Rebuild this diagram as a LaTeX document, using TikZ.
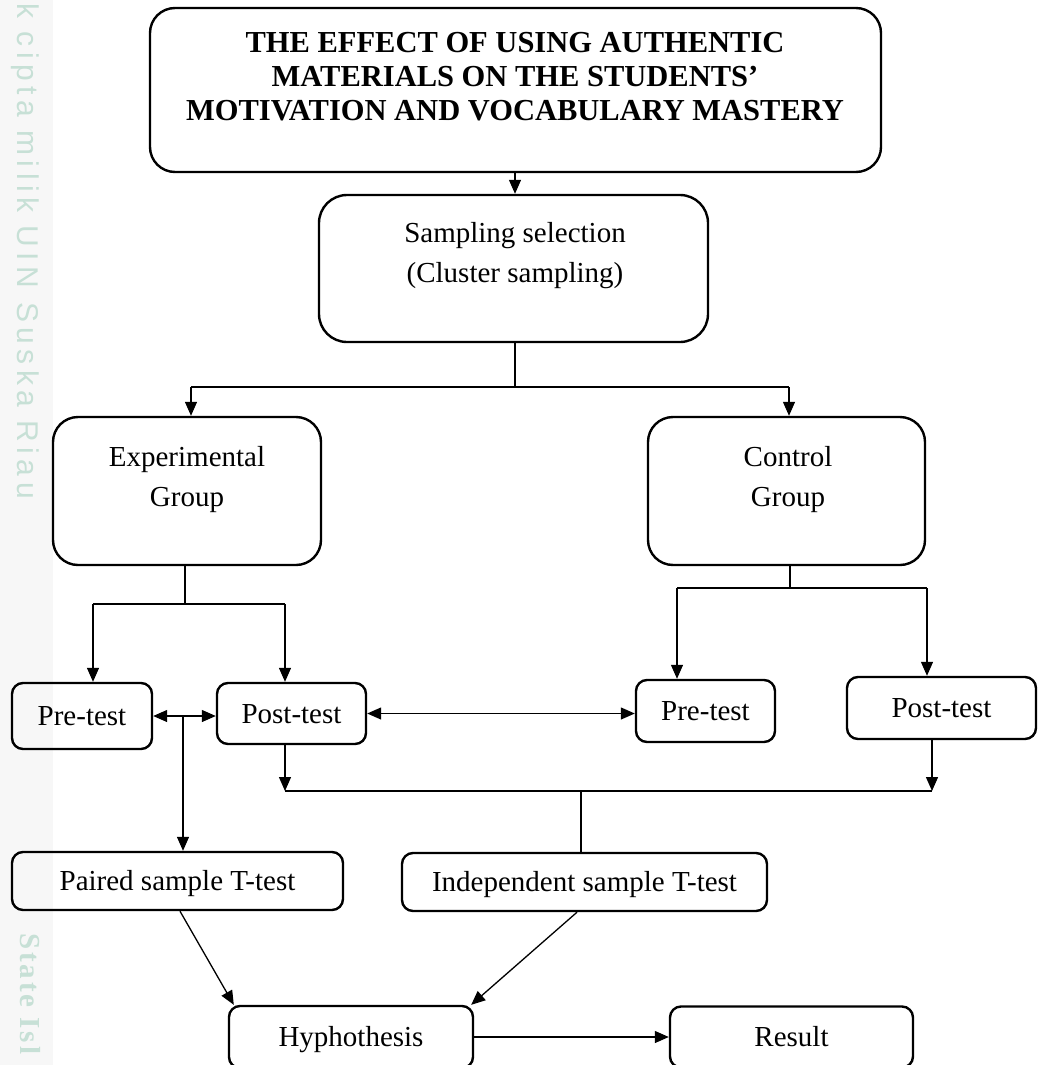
\documentclass[tikz,border=0pt]{standalone}
\usepackage{fontspec}
\setmainfont{Liberation Serif}
\newfontfamily\wmsans[LetterSpace=18]{Liberation Sans}
\newfontfamily\wmserif[LetterSpace=10]{Liberation Serif}
\usetikzlibrary{arrows.meta,calc}
\definecolor{wm}{rgb}{0.78,0.88,0.84}
\begin{document}
\begin{tikzpicture}[x=1pt,y=-1pt,
  box/.style={draw=black, line width=2.4pt, rounded corners=#1, inner sep=0pt, text height=19pt, text depth=0pt, font=\fontsize{29}{40}\selectfont},
  box/.default=11pt,
  txt/.style={align=center, inner sep=0pt, font=\fontsize{29}{40}\selectfont},
  ln/.style={line width=1.3pt},
  arr/.style={ln, -{Triangle[length=14pt,width=12pt]}},
  darr/.style={ln, {Triangle[length=14pt,width=12pt]}-{Triangle[length=14pt,width=12pt]}},
  wmtext/.style={rotate=-90, anchor=west, text=wm, inner sep=0pt}
]
\useasboundingbox (0,0) rectangle (1038,1065);
\clip (0,0) rectangle (1038,1065);
\fill[black!3] (0,0) rectangle (53,1065);
\node[wmtext, font=\wmsans\fontsize{30}{30}\selectfont] (wm1) at (25,3) {k cipta milik UIN Suska Riau};
\node[wmtext, font=\wmserif\bfseries\fontsize{29}{29}\selectfont] (wm2) at (30,933) {State Isl};

% boxes
\node[box=25pt, minimum width=731pt, minimum height=164pt] (title) at (515.5,90) {};
\node[txt, font=\bfseries\fontsize{30.5}{34}\selectfont] (titletext) at (515,77) {THE EFFECT OF USING AUTHENTIC\\MATERIALS ON THE STUDENTS’\\MOTIVATION AND VOCABULARY MASTERY};

\node[box=28pt, minimum width=389pt, minimum height=147pt] (samp) at (513.5,268.5) {};
\node[txt] (samptext) at (515,256) {Sampling selection\\(Cluster sampling)};

\node[box=25pt, minimum width=268pt, minimum height=148pt] (exp) at (187,491) {};
\node[txt] (exptext) at (187,480) {Experimental\\Group};

\node[box=25pt, minimum width=277pt, minimum height=148pt] (ctl) at (786.5,491) {};
\node[txt] (ctltext) at (788,480) {Control\\Group};

\node[box, minimum width=140pt, minimum height=66pt] (preL) at (82,716) {Pre-test};
\node[box, minimum width=149pt, minimum height=61pt] (postL) at (291.5,713.5) {Post-test};
\node[box, minimum width=139pt, minimum height=62pt] (preR) at (705.5,711) {Pre-test};
\node[box, minimum width=189pt, minimum height=62pt] (postR) at (941.5,708) {Post-test};

\node[box, minimum width=331pt, minimum height=58pt] (paired) at (177.5,881) {Paired sample T-test};
\node[box, minimum width=365pt, minimum height=58pt] (indep) at (584.5,882) {Independent sample T-test};

\node[box, minimum width=244pt, minimum height=62pt] (hyp) at (351,1037) {Hyphothesis};
\node[box, minimum width=243pt, minimum height=61pt] (res) at (791.5,1037) {Result};

% junction coordinates
\coordinate (j0) at (515,387);
\coordinate (jL) at (191,387);
\coordinate (jR) at (789,387);
\coordinate (k0) at (185,604);
\coordinate (kL) at (93,604);
\coordinate (kR) at (285,604);
\coordinate (m0) at (790,588);
\coordinate (mL) at (677,588);
\coordinate (mR) at (927,588);
\coordinate (p0) at (183,716);
\coordinate (q0) at (581,791);
\coordinate (qL) at (285,791);
\coordinate (qR) at (932,791);

% connectors
\draw[arr] (title.south -| j0) -- (samp.north -| j0);
\draw[ln] (samp.south -| j0) -- (j0);
\draw[ln] (jL) -- (jR);
\draw[arr] (jL) -- (jL |- exp.north);
\draw[arr] (jR) -- (jR |- ctl.north);

\draw[ln] (exp.south -| k0) -- (k0);
\draw[ln] (kL) -- (kR);
\draw[arr] (kL) -- (kL |- preL.north);
\draw[arr] (kR) -- (kR |- postL.north);

\draw[ln] (ctl.south -| m0) -- (m0);
\draw[ln] (mL) -- (mR);
\draw[arr] (mL) -- (mL |- preR.north);
\draw[arr] (mR) -- (mR |- postR.north);

\draw[darr] (preL.east) -- (preL.east -| postL.west);
\draw[arr] (p0) -- (p0 |- paired.north);
\draw[darr] (postL.east) -- (postL.east -| preR.west);

\draw[arr] (postL.south -| qL) -- (qL);
\draw[arr] (postR.south -| qR) -- (qR);
\draw[ln] (qL) -- (qR);
\draw[ln] (q0) -- (q0 |- indep.north);

\draw[arr] ([xshift=2.5pt]paired.south) -- ([xshift=6pt]hyp.north west);
\draw[arr] ([xshift=-7.5pt]indep.south) -- ([xshift=-3pt]hyp.north east);
\draw[arr] (hyp.east) -- (hyp.east -| res.west);
\end{tikzpicture}
\end{document}
